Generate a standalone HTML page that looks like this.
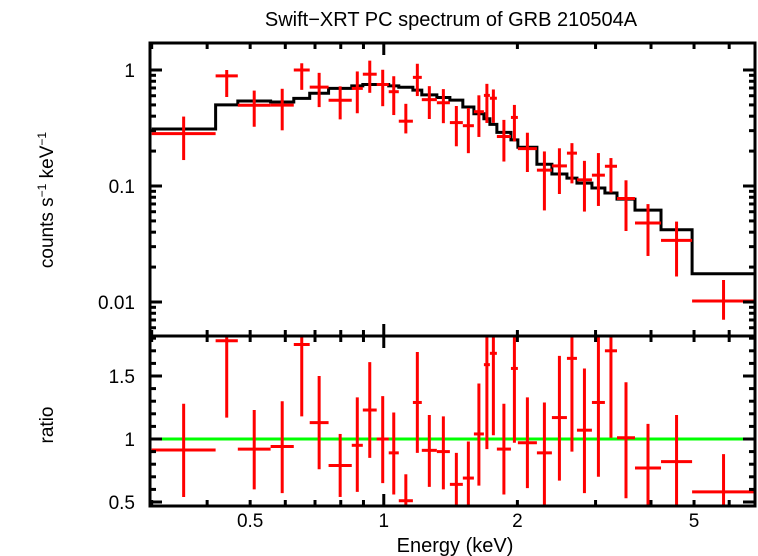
<!DOCTYPE html>
<html><head><meta charset="utf-8"><style>
html,body{margin:0;padding:0;background:#fff;}
svg{display:block;font-family:"Liberation Sans",sans-serif;}
</style></head><body>
<svg id="chart" width="758" height="556" viewBox="0 0 758 556" xmlns="http://www.w3.org/2000/svg">
<defs>
<clipPath id="clipTop"><rect x="150" y="43" width="605" height="293"/></clipPath>
<clipPath id="clipBot"><rect x="150" y="336" width="605" height="170"/></clipPath>
</defs>
<text x="451" y="26" text-anchor="middle" font-size="20">Swift−XRT PC spectrum of GRB 210504A</text>
<text transform="translate(53,200) rotate(-90)" text-anchor="middle" font-size="19">counts s<tspan dy="-7" font-size="12">−1</tspan><tspan dy="7"> keV</tspan><tspan dy="-7" font-size="12">−1</tspan></text>
<text transform="translate(53,425) rotate(-90)" text-anchor="middle" font-size="19">ratio</text>
<text x="455" y="552" text-anchor="middle" font-size="20">Energy (keV)</text>
<g id="gTop"></g>
<g id="gBot"></g>
<g id="gAxes"></g>
</svg>
<script>
// bin edges (keV)
const binEdges = [0.3,0.418,0.469,0.556,0.627,0.681,0.751,0.847,0.897,0.964,1.026,1.081,1.163,1.218,1.317,1.409,1.507,1.596,1.681,1.734,1.798,1.934,2.005,2.213,2.392,2.586,2.724,2.944,3.149,3.353,3.681,4.213,4.95,6.86];
// model (counts/s/keV) per bin
const modelValues = [0.31,0.50,0.54,0.53,0.57,0.63,0.695,0.73,0.75,0.75,0.73,0.71,0.67,0.61,0.58,0.55,0.48,0.42,0.38,0.34,0.29,0.25,0.216,0.154,0.127,0.117,0.106,0.096,0.087,0.077,0.062,0.042,0.0175];
// observed counts per bin
const countValues = [0.283,0.89,0.497,0.498,1.0,0.712,0.549,0.694,0.92,0.75,0.65,0.362,0.864,0.555,0.522,0.352,0.331,0.437,0.604,0.571,0.267,0.39,0.21,0.137,0.149,0.192,0.113,0.124,0.148,0.078,0.048,0.034,0.0102];
// data/model ratio
const ratioValues = [0.913,1.78,0.92,0.94,1.75,1.13,0.79,0.95,1.23,1.0,0.89,0.51,1.29,0.91,0.90,0.64,0.69,1.04,1.59,1.68,0.92,1.56,0.97,0.89,1.17,1.64,1.07,1.29,1.70,1.01,0.77,0.82,0.58];
const ratioLow = [0.54,1.17,0.60,0.57,1.18,0.76,0.54,0.58,0.85,0.65,0.56,0.40,0.89,0.62,0.60,0.40,0.40,0.63,0.92,1.03,0.56,0.97,0.61,0.40,0.67,0.90,0.57,0.70,1.01,0.53,0.40,0.40,0.40];
const ratioHigh = [1.28,2.0,1.23,1.30,2.0,1.50,1.04,1.33,1.61,1.34,1.21,0.72,1.69,1.19,1.18,0.89,0.98,1.44,2.0,2.0,1.28,2.0,1.33,1.29,1.66,2.0,1.56,2.0,2.0,1.45,1.12,1.19,0.88];
const xTickMajor = [1];
const xTickMinor = [0.3,0.4,0.5,0.6,0.7,0.8,0.9,2,3,4,5,6];
const xTickLabels = [0.5,1,2,5];
const yTickLabelsTop = [1,0.1,0.01];
const yTickLabelsBot = [0.5,1,1.5];

const NS='http://www.w3.org/2000/svg';
const X0=150,X1=755,xmin=0.2974,xmax=6.86;
const xs=e=>X0+(Math.log10(e)-Math.log10(xmin))/(Math.log10(xmax)-Math.log10(xmin))*(X1-X0);
const yt=v=>70-Math.log10(v)*116;
const yb=r=>439-(r-1)*126;
function mk(p,tag,a){const e=document.createElementNS(NS,tag);for(const k in a)e.setAttribute(k,a[k]);p.appendChild(e);return e;}
const gT=document.getElementById('gTop'),gB=document.getElementById('gBot'),gA=document.getElementById('gAxes');
const cT=mk(gT,'g',{'clip-path':'url(#clipTop)'}),cB=mk(gB,'g',{'clip-path':'url(#clipBot)'});

let d='';
modelValues.forEach((m,i)=>{const xa=xs(binEdges[i]),xb=xs(binEdges[i+1]),y=yt(m);d+=(i?'L':'M')+xa+','+y+'L'+xb+','+y;});
const mp=mk(cT,'path',{d:d,fill:'none',stroke:'#000','stroke-width':3});



const gl=mk(cB,'line',{x1:X0,x2:X1,y1:yb(1),y2:yb(1),stroke:'#00ff00','stroke-width':3});



countValues.forEach((c,i)=>{
  const xa=xs(binEdges[i]),xb=xs(binEdges[i+1]),xc=xs(Math.sqrt(binEdges[i]*binEdges[i+1]));
  const r=ratioValues[i];
  const g=mk(cT,'g',{stroke:'#ff0000','stroke-width':3});
  
  
  mk(g,'line',{x1:xa,x2:xb,y1:yt(c),y2:yt(c)});
  mk(g,'line',{x1:xc,x2:xc,y1:yt(c*ratioLow[i]/r),y2:yt(c*ratioHigh[i]/r)});
  const h=mk(cB,'g',{stroke:'#ff0000','stroke-width':3});
  
  
  mk(h,'line',{x1:xa,x2:xb,y1:yb(r),y2:yb(r)});
  mk(h,'line',{x1:xc,x2:xc,y1:yb(ratioLow[i]),y2:yb(ratioHigh[i])});
});

[[43,336],[336,506]].forEach(([a,b])=>{mk(gA,'rect',{x:X0,y:a,width:X1-X0,height:b-a,fill:'none',stroke:'#000','stroke-width':3});});
[[43,336],[336,506]].forEach(([a,b])=>{
  xTickMinor.forEach(e=>{const x=xs(e);mk(gA,'line',{x1:x,x2:x,y1:a,y2:a+6,stroke:'#000','stroke-width':3});mk(gA,'line',{x1:x,x2:x,y1:b,y2:b-6,stroke:'#000','stroke-width':3});});
  xTickMajor.forEach(e=>{const x=xs(e);mk(gA,'line',{x1:x,x2:x,y1:a,y2:a+12,stroke:'#000','stroke-width':3});mk(gA,'line',{x1:x,x2:x,y1:b,y2:b-12,stroke:'#000','stroke-width':3});});
});
xTickLabels.forEach(e=>{const t=mk(gA,'text',{x:xs(e),y:527,'text-anchor':'middle','font-size':19});t.textContent=e;
  
  });
for(let dec=-3;dec<=0;dec++){for(let k=1;k<=9;k++){const v=k*Math.pow(10,dec);const y=yt(v);if(y<44||y>335)continue;const L=k==1?12:6;
  mk(gA,'line',{x1:X0,x2:X0+L,y1:y,y2:y,stroke:'#000','stroke-width':3});mk(gA,'line',{x1:X1,x2:X1-L,y1:y,y2:y,stroke:'#000','stroke-width':3});}}
yTickLabelsTop.forEach(v=>{const t=mk(gA,'text',{x:135,y:yt(v)+7,'text-anchor':'end','font-size':19});t.textContent=v;
  
  });
for(let r=0.5;r<=1.81;r+=0.1){const y=yb(r);const maj=Math.abs(r*2-Math.round(r*2))<1e-6;const L=maj?12:6;
  mk(gA,'line',{x1:X0,x2:X0+L,y1:y,y2:y,stroke:'#000','stroke-width':3});mk(gA,'line',{x1:X1,x2:X1-L,y1:y,y2:y,stroke:'#000','stroke-width':3});}
yTickLabelsBot.forEach(v=>{const t=mk(gA,'text',{x:135,y:yb(v)+7,'text-anchor':'end','font-size':19});t.textContent=v;
  
  });
</script>
</body></html>
